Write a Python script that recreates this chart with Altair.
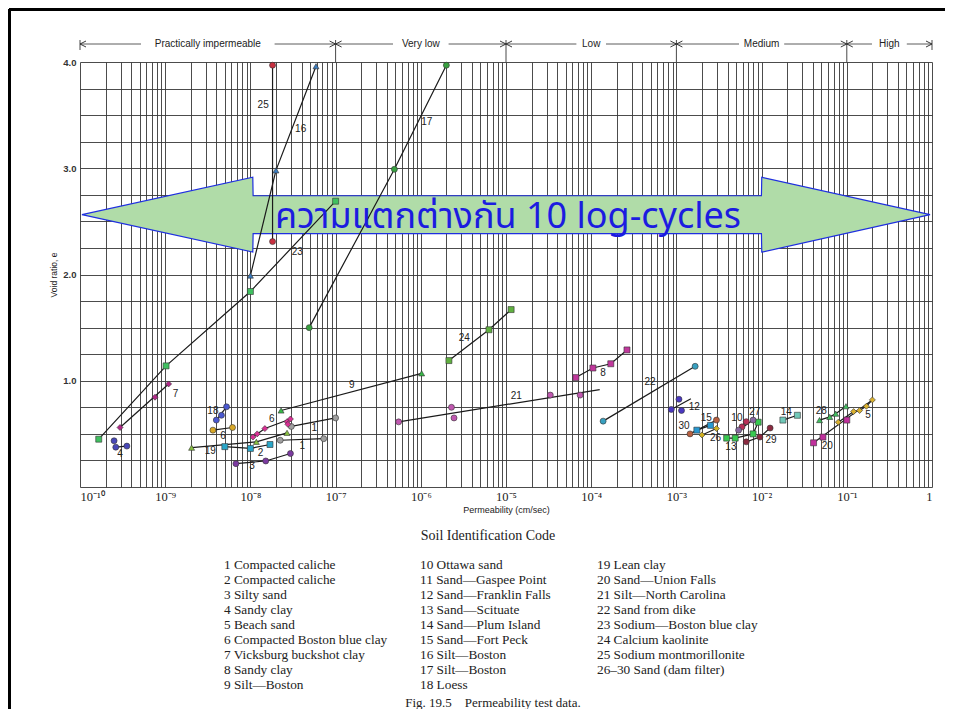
import altair as alt
import pandas as pd

# ---------------- data ----------------
# markers: (series, log10 k [cm/sec], void ratio e)
markers = [
    ("1a", -7.52, 0.57), ("1a", -7.00, 0.65),
    ("1b", -7.65, 0.44), ("1b", -7.14, 0.455),
    ("2", -8.30, 0.38), ("2", -8.00, 0.363), ("2", -7.77, 0.40),
    ("3", -8.17, 0.22), ("3", -7.82, 0.245), ("3", -7.53, 0.315),
    ("4", -9.60, 0.435), ("4", -9.58, 0.375), ("4", -9.45, 0.385),
    ("5", -1.10, 0.61), ("5", -0.92, 0.71), ("5", -0.85, 0.72), ("5", -0.77, 0.76), ("5", -0.70, 0.82),
    ("6a", -8.44, 0.535), ("6a", -8.21, 0.56),
    ("6b", -7.97, 0.47), ("6b", -7.92, 0.50), ("6b", -7.83, 0.55), ("6b", -7.57, 0.615),
    ("6b", -7.53, 0.64), ("6b", -7.56, 0.59),
    ("7", -9.53, 0.56), ("7", -9.12, 0.845), ("7", -8.96, 0.97),
    ("8", -4.18, 1.03), ("8", -3.98, 1.12), ("8", -3.77, 1.16), ("8", -3.58, 1.29),
    ("9", -7.64, 0.72), ("9", -5.99, 1.07),
    ("10", -2.23, 0.566), ("10", -2.18, 0.615),
    ("12", -3.06, 0.73), ("12", -2.97, 0.826), ("12", -2.94, 0.72),
    ("13", -2.41, 0.46), ("13", -2.31, 0.46), ("13", -2.10, 0.50), ("13", -2.04, 0.61),
    ("14", -1.75, 0.63), ("14", -1.58, 0.675),
    ("15", -2.76, 0.535), ("15", -2.60, 0.58),
    ("16", -8.00, 1.99), ("16", -7.70, 2.98), ("16", -7.23, 3.96),
    ("17", -7.31, 1.50), ("17", -6.31, 2.99), ("17", -5.70, 3.97),
    ("18", -8.40, 0.63), ("18", -8.34, 0.675), ("18", -8.28, 0.755),
    ("19", -8.69, 0.37), ("19", -7.93, 0.425), ("19", -7.57, 0.51),
    ("20", -1.39, 0.416), ("20", -1.28, 0.47), ("20", -1.00, 0.63),
    ("21", -6.26, 0.613), ("21", -5.64, 0.75), ("21", -5.61, 0.65), ("21", -4.48, 0.865), ("21", -4.13, 0.865),
    ("22", -3.86, 0.62), ("22", -2.78, 1.136),
    ("23", -9.78, 0.45), ("23", -8.99, 1.14), ("23", -8.00, 1.84), ("23", -7.00, 2.69),
    ("24", -5.67, 1.19), ("24", -5.20, 1.48), ("24", -4.94, 1.67),
    ("25", -7.74, 3.97), ("25", -7.74, 2.31),
    ("26", -2.70, 0.49), ("26", -2.53, 0.55),
    ("27", -2.27, 0.535), ("27", -2.10, 0.63),
    ("28", -1.32, 0.63), ("28", -1.20, 0.66), ("28", -1.13, 0.69), ("28", -1.01, 0.76),
    ("29", -2.18, 0.425), ("29", -2.02, 0.47), ("29", -1.90, 0.555),
    ("30", -2.84, 0.50), ("30", -2.53, 0.63),
]

# drawn connecting / fitted lines: (series, log10 k, e) in drawing order
line_vertices = [
    ("1a", -7.52, 0.57), ("1a", -7.00, 0.65),
    ("1b", -7.65, 0.44), ("1b", -7.14, 0.455),
    ("2", -8.30, 0.38), ("2", -8.00, 0.363), ("2", -7.77, 0.40),
    ("3", -8.17, 0.22), ("3", -7.82, 0.245), ("3", -7.53, 0.315),
    ("4", -9.58, 0.375), ("4", -9.45, 0.385),
    ("5", -1.10, 0.61), ("5", -0.92, 0.71), ("5", -0.85, 0.72), ("5", -0.77, 0.76), ("5", -0.70, 0.82),
    ("6a", -8.44, 0.535), ("6a", -8.21, 0.56),
    ("6b", -7.97, 0.47), ("6b", -7.83, 0.55), ("6b", -7.53, 0.64),
    ("7", -9.53, 0.56), ("7", -8.96, 0.97),
    ("8", -4.18, 1.03), ("8", -3.98, 1.12), ("8", -3.77, 1.16), ("8", -3.58, 1.29),
    ("9", -7.64, 0.72), ("9", -5.99, 1.07),
    ("10", -2.23, 0.566), ("10", -2.18, 0.615),
    ("12", -3.06, 0.73), ("12", -2.83, 0.83),
    ("13", -2.41, 0.46), ("13", -2.31, 0.46), ("13", -2.10, 0.50), ("13", -2.04, 0.61),
    ("14", -1.75, 0.63), ("14", -1.58, 0.675),
    ("15", -2.76, 0.535), ("15", -2.60, 0.58),
    ("16", -8.00, 1.99), ("16", -7.70, 2.98), ("16", -7.23, 3.96),
    ("17", -7.31, 1.50), ("17", -6.31, 2.99), ("17", -5.70, 3.97),
    ("18", -8.40, 0.63), ("18", -8.28, 0.755),
    ("19", -8.69, 0.37), ("19", -7.93, 0.425), ("19", -7.57, 0.51),
    ("20", -1.39, 0.416), ("20", -0.70, 0.82),
    ("21", -6.26, 0.613), ("21", -3.90, 0.917),
    ("22", -3.86, 0.62), ("22", -2.78, 1.136),
    ("23", -9.78, 0.45), ("23", -8.99, 1.14), ("23", -8.00, 1.84), ("23", -7.00, 2.69),
    ("24", -5.67, 1.19), ("24", -5.20, 1.48), ("24", -4.94, 1.67),
    ("25", -7.74, 3.97), ("25", -7.74, 2.31),
    ("26", -2.70, 0.49), ("26", -2.53, 0.55),
    ("27", -2.27, 0.535), ("27", -2.10, 0.63),
    ("28", -1.32, 0.63), ("28", -1.20, 0.66), ("28", -1.13, 0.69), ("28", -1.01, 0.76),
    ("29", -2.18, 0.425), ("29", -2.02, 0.47), ("29", -1.90, 0.555),
    ("30", -2.84, 0.50), ("30", -2.53, 0.63),
]

# series number labels: (text, log10 k, e)
series_labels = [
    ("25", -7.85, 3.60), ("16", -7.41, 3.37), ("17", -5.93, 3.44), ("23", -7.45, 2.21),
    ("24", -5.49, 1.40), ("9", -6.81, 0.96), ("21", -4.88, 0.86), ("8", -3.86, 1.07),
    ("22", -3.31, 0.99), ("12", -2.79, 0.75), ("15", -2.65, 0.65), ("30", -2.91, 0.57),
    ("26", -2.54, 0.46), ("13", -2.36, 0.375), ("10", -2.29, 0.65), ("27", -2.08, 0.71),
    ("29", -1.89, 0.44), ("14", -1.71, 0.71), ("28", -1.30, 0.72), ("5", -0.75, 0.68),
    ("20", -1.23, 0.39), ("7", -8.88, 0.88), ("4", -9.53, 0.31), ("18", -8.44, 0.72),
    ("6", -8.32, 0.48), ("6", -7.75, 0.64), ("19", -8.47, 0.34), ("2", -7.88, 0.32),
    ("3", -7.98, 0.20), ("1", -7.25, 0.555), ("1", -7.39, 0.385),
]

# permeability classes along the top (log10 k bounds)
class_names = ["Practically impermeable", "Very low", "Low", "Medium", "High"]
class_bounds = [-10, -7, -5, -3, -1, 0]

# big annotation arrow outline (log10 k, half height about the centre line)
arrow_logk = [-9.977, -7.972, -7.968, -2.002, -1.998, -0.023]
arrow_half = [0.0, 0.352, 0.178, 0.178, 0.352, 0.0]
arrow_centre = 2.563
arrow_text = "ความแตกต่างกัน 10 log-cycles"

legend_col1 = ["1 Compacted caliche", "2 Compacted caliche", "3 Silty sand", "4 Sandy clay",
               "5 Beach sand", "6 Compacted Boston blue clay", "7 Vicksburg buckshot clay",
               "8 Sandy clay", "9 Silt\u2014Boston"]
legend_col2 = ["10 Ottawa sand", "11 Sand\u2014Gaspee Point", "12 Sand\u2014Franklin Falls",
               "13 Sand\u2014Scituate", "14 Sand\u2014Plum Island", "15 Sand\u2014Fort Peck",
               "16 Silt\u2014Boston", "17 Silt\u2014Boston", "18 Loess"]
legend_col3 = ["19 Lean clay", "20 Sand\u2014Union Falls", "21 Silt\u2014North Carolina",
               "22 Sand from dike", "23 Sodium\u2014Boston blue clay", "24 Calcium kaolinite",
               "25 Sodium montmorillonite", "26\u201330 Sand (dam filter)"]
legend_title = "Soil Identification Code"
caption = "Fig. 19.5\u00a0\u00a0\u00a0\u00a0Permeability test data."

# ---------------- styles ----------------
series_style = {
    "1a": ("circle", "#a0a0a0"), "1b": ("circle", "#a0a0a0"),
    "2": ("square", "#2aa6c8"), "3": ("circle", "#7b3aa0"), "4": ("circle", "#4848b8"),
    "5": ("diamond", "#d8b030"), "6a": ("circle", "#d8a828"), "6b": ("diamond", "#d83094"),
    "7": ("diamond", "#b02888"), "8": ("square", "#c0389c"), "9": ("triangle-up", "#38b848"),
    "10": ("circle", "#b83058"), "12": ("circle", "#4a38c0"), "13": ("square", "#38c850"),
    "14": ("square", "#70c8b8"), "15": ("square", "#2898d0"), "16": ("triangle-up", "#3a7cc0"),
    "17": ("circle", "#38a040"), "18": ("circle", "#4a58d0"), "19": ("triangle-up", "#88c040"),
    "20": ("square", "#c0309c"), "21": ("circle", "#c058b0"), "22": ("circle", "#38a0c0"),
    "23": ("square", "#40c060"), "24": ("square", "#60b040"), "25": ("circle", "#c83040"),
    "26": ("diamond", "#d0b020"), "27": ("circle", "#8868a0"), "28": ("triangle-up", "#40c060"),
    "29": ("circle", "#8a2a40"), "30": ("circle", "#b86040"),
}

W, H = 852, 425
PAD_L, PAD_T, PAD_R, PAD_B = 72, 54, 13, 222

# ---------------- frames ----------------
df_pts = pd.DataFrame(markers, columns=["series", "logk", "e"])
df_pts["k"] = 10 ** df_pts["logk"]
df_lines = pd.DataFrame(line_vertices, columns=["series", "logk", "e"])
df_lines["k"] = 10 ** df_lines["logk"]
df_lines["idx"] = range(len(df_lines))
df_lab = pd.DataFrame(series_labels, columns=["label", "logk", "e"])
df_lab["k"] = 10 ** df_lab["logk"]

df_arrow = pd.DataFrame({
    "k": [10 ** v for v in arrow_logk],
    "e": [arrow_centre + h for h in arrow_half],
    "bot": [arrow_centre - h for h in arrow_half],
})

xs = alt.Scale(type="log", domain=[1e-10, 1])
ys = alt.Scale(domain=[0, 4])

grid_x = [m * 10.0 ** p for p in range(-10, 0) for m in range(1, 10)] + [1.0]
sup = ["10\u207b\u00b9\u2070", "10\u207b\u2079", "10\u207b\u2078", "10\u207b\u2077", "10\u207b\u2076",
       "10\u207b\u2075", "10\u207b\u2074", "10\u207b\u00b3", "10\u207b\u00b2", "10\u207b\u00b9", "1"]
arr = "[" + ",".join("'" + s + "'" for s in sup) + "]"
lx = ("abs(log(datum.value)/LN10 - round(log(datum.value)/LN10)) < 0.001 ? "
      + arr + "[round(log(datum.value)/LN10) + 10] : ''")

x_axis = alt.Axis(values=grid_x, labelExpr=lx, title="Permeability (cm/sec)", grid=True,
                  ticks=False, domain=False, labelOverlap=False, labelBound=False,
                  labelFont="Liberation Serif", labelFontSize=12.5, labelColor="#222",
                  labelPadding=3, titleFont="Liberation Sans", titleFontSize=9,
                  titleFontWeight="normal", titleColor="#222", titlePadding=3)
y_axis = alt.Axis(values=[i * 0.25 for i in range(17)],
                  labelExpr="datum.value >= 1 && datum.value % 1 == 0 ? format(datum.value, '.1f') : ''",
                  title="Void ratio, e", grid=True, ticks=False, domain=False,
                  labelFont="Liberation Sans", labelFontSize=9.5, labelFontWeight="bold",
                  labelColor="#333", labelPadding=4, labelOverlap=False,
                  titleFont="Liberation Sans", titleFontSize=8.5, titleFontWeight="normal",
                  titleColor="#222", titlePadding=4)

X = alt.X("k:Q", scale=xs, axis=x_axis)
Y = alt.Y("e:Q", scale=ys, axis=y_axis)

arrow = alt.Chart(df_arrow).mark_area(
    fill="#b0dca8", fillOpacity=1, stroke="#1f2fe0", strokeWidth=1.2, interpolate="linear"
).encode(x=X, y=Y, y2="bot:Q")

lines = alt.Chart(df_lines).mark_line(color="#1a1a1a", strokeWidth=1.2).encode(
    x=X, y=Y, detail="series:N", order="idx:Q",
)

keys = list(series_style.keys())
cscale = alt.Scale(domain=keys, range=[series_style[k][1] for k in keys])
points = alt.Chart(df_pts).mark_point(filled=True, size=36, opacity=1, stroke="#333",
                                      strokeWidth=0.6).encode(
    x=X, y=Y,
    fill=alt.Fill("series:N", scale=cscale, legend=None),
    shape=alt.Shape("series:N", scale=alt.Scale(domain=keys, range=[series_style[k][0] for k in keys]),
                    legend=None),
)

labels = alt.Chart(df_lab).mark_text(font="Liberation Sans", fontSize=10, color="#222").encode(
    x=X, y=Y, text="label:N",
)

# ---- permeability class band on top ----
PXD = W / 10.0  # pixels per decade
seg_rows, txt_rows, head_rows = [], [], []
for name, a, b in zip(class_names, class_bounds[:-1], class_bounds[1:]):
    mid = (a + b) / 2.0
    gap = (len(name) * 5.2 / 2 + 7) / PXD
    seg_rows += [{"k": 10 ** a, "k2": 10 ** (mid - gap)}, {"k": 10 ** (mid + gap), "k2": 10 ** b}]
    txt_rows.append({"k": 10 ** mid, "name": name})
    head_rows += [{"k": 10 ** a, "dir": "L"}, {"k": 10 ** b, "dir": "R"}]
df_seg = pd.DataFrame(seg_rows)
df_txt = pd.DataFrame(txt_rows)
df_head = pd.DataFrame(head_rows)
df_bnd = pd.DataFrame({"k": [10.0 ** v for v in class_bounds],
                       "inner": [0 < i < len(class_bounds) - 1 for i in range(len(class_bounds))]})

band_y = -18
seg = alt.Chart(df_seg).mark_rule(color="#333", strokeWidth=0.8).encode(
    x=X, x2="k2:Q", y=alt.value(band_y))
band_txt = alt.Chart(df_txt).mark_text(font="Liberation Sans", fontSize=10, color="#222",
                                       baseline="middle").encode(
    x=X, y=alt.value(band_y), text="name:N")
heads_r = alt.Chart(df_head[df_head["dir"] == "R"]).mark_point(
    shape="M-1,-0.5L0,0L-1,0.5", filled=False, size=144, color="#222", strokeWidth=0.9, opacity=1
).encode(x=X, y=alt.value(band_y))
heads_l = alt.Chart(df_head[df_head["dir"] == "L"]).mark_point(
    shape="M1,-0.5L0,0L1,0.5", filled=False, size=144, color="#222", strokeWidth=0.9, opacity=1
).encode(x=X, y=alt.value(band_y))
ticks_outer = alt.Chart(df_bnd[~df_bnd["inner"]]).mark_rule(color="#333", strokeWidth=0.9).encode(
    x=X, y=alt.value(-22), y2=alt.value(-12))
ticks_inner = alt.Chart(df_bnd[df_bnd["inner"]]).mark_rule(color="#333", strokeWidth=0.9).encode(
    x=X, y=alt.value(-22), y2=alt.value(0))

thai = alt.Chart(pd.DataFrame({"t": [arrow_text]})).mark_text(
    font="Noto Sans Thai, Tahoma, Loma, Garuda, Noto Sans, sans-serif", fontSize=36, color="#1c1ce0",
    align="center", baseline="middle"
).encode(x=alt.value(428), y=alt.value(155), text="t:N")

# ---- legend block under the chart (multi-line texts, one per column) ----
def legend_column(items, px):
    return alt.Chart(pd.DataFrame({"t": ["\n".join(items)]})).mark_text(
        font="Liberation Serif", fontSize=13.3, color="#222", align="left", baseline="top",
        lineBreak="\n", lineHeight=15
    ).encode(x=alt.value(px), y=alt.value(496), text="t:N")

leg1 = legend_column(legend_col1, 144)
leg2 = legend_column(legend_col2, 340)
leg3 = legend_column(legend_col3, 517)
legend_head = alt.Chart(pd.DataFrame({"t": [legend_title]})).mark_text(
    font="Liberation Serif", fontSize=14, color="#222", align="center", baseline="middle"
).encode(x=alt.value(408), y=alt.value(474), text="t:N")
cap = alt.Chart(pd.DataFrame({"t": [caption]})).mark_text(
    font="Liberation Serif", fontSize=13, color="#222", align="center", baseline="middle"
).encode(x=alt.value(413), y=alt.value(641), text="t:N")

# slide frame (top and left edges)
frame_top = alt.Chart(pd.DataFrame({"a": [0]})).mark_rule(color="#000", strokeWidth=3).encode(
    x=alt.value(-PAD_L + 1), x2=alt.value(W + PAD_R), y=alt.value(-PAD_T + 1.5))
frame_left = alt.Chart(pd.DataFrame({"a": [0]})).mark_rule(color="#000", strokeWidth=3).encode(
    x=alt.value(-PAD_L + 1.5), y=alt.value(-PAD_T + 1), y2=alt.value(H + PAD_B))

chart = alt.layer(
    arrow, lines, points, labels, seg, band_txt, heads_r, heads_l, ticks_outer, ticks_inner,
    thai, leg1, leg2, leg3, legend_head, cap, frame_top, frame_left
).properties(
    width=W, height=H,
    autosize=alt.AutoSizeParams(type="none"),
    padding={"left": PAD_L, "top": PAD_T, "right": PAD_R, "bottom": PAD_B},
    background="white",
).configure_view(stroke=None).configure_axis(
    gridColor="#383838", gridWidth=0.9, gridOpacity=1
)

chart.save("out.html", embed_options={"renderer": "svg", "actions": False})
